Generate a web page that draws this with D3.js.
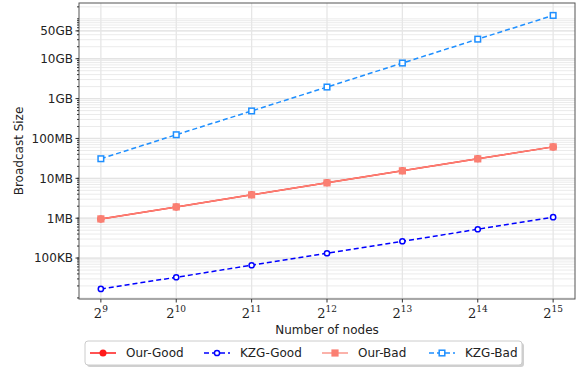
<!DOCTYPE html>
<html>
<head>
<meta charset="utf-8">
<script src="https://cdn.jsdelivr.net/npm/d3@7"></script>
<style>
  body { margin: 0; background: #fff; }
  svg { display: block; }
</style>
</head>
<body>
<svg width="582" height="371"></svg>
<script>
// exponents of 2 for the node counts
var nodeExp = [9, 10, 11, 12, 13, 14, 15];
// broadcast sizes in bytes
var ourGood = [0.96e6, 1.92e6, 3.85e6, 7.7e6, 15.4e6, 30.8e6, 61.5e6];
var kzgGood = [16.8e3, 33e3, 66e3, 132e3, 264e3, 528e3, 1.06e6];
var ourBad  = [0.96e6, 1.92e6, 3.85e6, 7.7e6, 15.4e6, 30.8e6, 61.5e6];
var kzgBad  = [31e6, 124e6, 490e6, 1.95e9, 7.8e9, 31e9, 122e9];
var yTicks = [1e5, 1e6, 1e7, 1e8, 1e9, 1e10, 5e10];
var yTickLabels = ["100KB", "1MB", "10MB", "100MB", "1GB", "10GB", "50GB"];

var series = [
  { name: "Our-Good", values: ourGood, color: "#ff1a1a", dash: null, marker: "circle", fill: true },
  { name: "KZG-Good", values: kzgGood, color: "#0000ff", dash: "5,3", marker: "circle", fill: false },
  { name: "Our-Bad", values: ourBad, color: "#fa7f72", dash: null, marker: "square", fill: true },
  { name: "KZG-Bad", values: kzgBad, color: "#1e8fff", dash: "5,3", marker: "square", fill: false }
];

var svg = d3.select("svg");
var pL = 79, pR = 575, pT = 3, pB = 299;

var x = d3.scaleLinear().domain([8.71, 15.29]).range([pL, pR]);
var y = d3.scaleLog().domain([9.4e3, 2.5e11]).range([pB, pT]);

// minor + major grid
var minor = [];
for (var e = 3; e <= 11; e++) {
  for (var m = 1; m <= 9; m++) {
    var v = m * Math.pow(10, e);
    if (v >= y.domain()[0] && v <= y.domain()[1]) minor.push(v);
  }
}
svg.append("g").selectAll("line").data(minor).enter().append("line")
  .attr("x1", pL).attr("x2", pR)
  .attr("y1", function (d) { return y(d); }).attr("y2", function (d) { return y(d); })
  .attr("stroke", "#ebebeb").attr("stroke-width", 1);
svg.append("g").selectAll("line").data(yTicks).enter().append("line")
  .attr("x1", pL).attr("x2", pR)
  .attr("y1", function (d) { return y(d); }).attr("y2", function (d) { return y(d); })
  .attr("stroke", "#e3e3e3").attr("stroke-width", 1.3);
svg.append("g").selectAll("line").data(nodeExp).enter().append("line")
  .attr("x1", function (d) { return x(d); }).attr("x2", function (d) { return x(d); })
  .attr("y1", pT).attr("y2", pB)
  .attr("stroke", "#e6e6e6").attr("stroke-width", 1.3);

// frame
svg.append("rect").attr("x", pL).attr("y", pT)
  .attr("width", pR - pL).attr("height", pB - pT)
  .attr("fill", "none").attr("stroke", "#555").attr("stroke-width", 1);

// y axis ticks
var yAxis = svg.append("g").attr("font-family", "DejaVu Sans, sans-serif").attr("font-size", 12);
yAxis.selectAll("line.minor").data(minor).enter().append("line")
  .attr("x1", pL - 2).attr("x2", pL)
  .attr("y1", function (d) { return y(d); }).attr("y2", function (d) { return y(d); })
  .attr("stroke", "#333");
yAxis.selectAll("line.major").data(yTicks).enter().append("line")
  .attr("x1", pL - 3.5).attr("x2", pL)
  .attr("y1", function (d) { return y(d); }).attr("y2", function (d) { return y(d); })
  .attr("stroke", "#333");
yAxis.selectAll("text").data(yTicks).enter().append("text")
  .attr("x", pL - 6).attr("y", function (d) { return y(d); })
  .attr("dy", "0.36em").attr("text-anchor", "end").attr("fill", "#222")
  .text(function (d, i) { return yTickLabels[i]; });

// x axis ticks
var xAxis = svg.append("g");
xAxis.selectAll("line").data(nodeExp).enter().append("line")
  .attr("x1", function (d) { return x(d); }).attr("x2", function (d) { return x(d); })
  .attr("y1", pB).attr("y2", pB + 3.5).attr("stroke", "#333");
var xt = xAxis.selectAll("text").data(nodeExp).enter().append("text")
  .attr("x", function (d) { return x(d); }).attr("y", pB + 19)
  .attr("text-anchor", "middle").attr("font-family", "DejaVu Serif, serif")
  .attr("fill", "#222").attr("font-size", 13);
xt.append("tspan").text("2");
xt.append("tspan").attr("dy", -6).attr("font-size", 9).text(function (d) { return d; });

// axis titles
svg.append("text").attr("x", (pL + pR) / 2).attr("y", 334)
  .attr("text-anchor", "middle").attr("font-family", "DejaVu Sans, sans-serif")
  .attr("font-size", 12).attr("fill", "#222").text("Number of nodes");
svg.append("text").attr("transform", "translate(23," + (pT + pB) / 2 + ") rotate(-90)")
  .attr("text-anchor", "middle").attr("font-family", "DejaVu Sans, sans-serif")
  .attr("font-size", 12).attr("fill", "#222").text("Broadcast Size");

// series
var line = d3.line()
  .x(function (d, i) { return x(nodeExp[i]); })
  .y(function (d) { return y(d); });

function drawMarker(g, s, cx, cy) {
  if (s.marker === "circle") {
    g.append("circle").attr("cx", cx).attr("cy", cy)
      .attr("r", s.fill ? 3.5 : 2.6)
      .attr("fill", s.fill ? s.color : "#fff")
      .attr("stroke", s.color).attr("stroke-width", s.fill ? 0 : 1.5);
  } else {
    var h = s.fill ? 3.6 : 2.8;
    g.append("rect").attr("x", cx - h).attr("y", cy - h)
      .attr("width", 2 * h).attr("height", 2 * h)
      .attr("fill", s.fill ? s.color : "#fff")
      .attr("stroke", s.color).attr("stroke-width", s.fill ? 0 : 1.5);
  }
}

series.forEach(function (s) {
  var g = svg.append("g");
  g.append("path").attr("d", line(s.values))
    .attr("fill", "none").attr("stroke", s.color).attr("stroke-width", 1.5)
    .attr("stroke-dasharray", s.dash);
  s.values.forEach(function (v, i) { drawMarker(g, s, x(nodeExp[i]), y(v)); });
});

// legend
var leg = svg.append("g");
leg.append("rect").attr("x", 87).attr("y", 343).attr("width", 437).attr("height", 24)
  .attr("rx", 3).attr("fill", "#d0d0d0");
leg.append("rect").attr("x", 85).attr("y", 341).attr("width", 437).attr("height", 24)
  .attr("rx", 3).attr("fill", "#fff").attr("stroke", "#ccc");
var legX = [90, 204, 322, 429];
series.forEach(function (s, i) {
  var g = leg.append("g");
  var cy = 353;
  g.append("line").attr("x1", legX[i]).attr("x2", legX[i] + 26)
    .attr("y1", cy).attr("y2", cy)
    .attr("stroke", s.color).attr("stroke-width", 1.5).attr("stroke-dasharray", s.dash)
    .attr("opacity", s.name === "Our-Bad" ? 0.8 : 1);
  drawMarker(g, s, legX[i] + 13, cy);
  g.append("text").attr("x", legX[i] + 36).attr("y", cy).attr("dy", "0.36em")
    .attr("font-family", "DejaVu Sans, sans-serif").attr("font-size", 12)
    .attr("fill", "#222").text(s.name);
});
</script>
</body>
</html>
